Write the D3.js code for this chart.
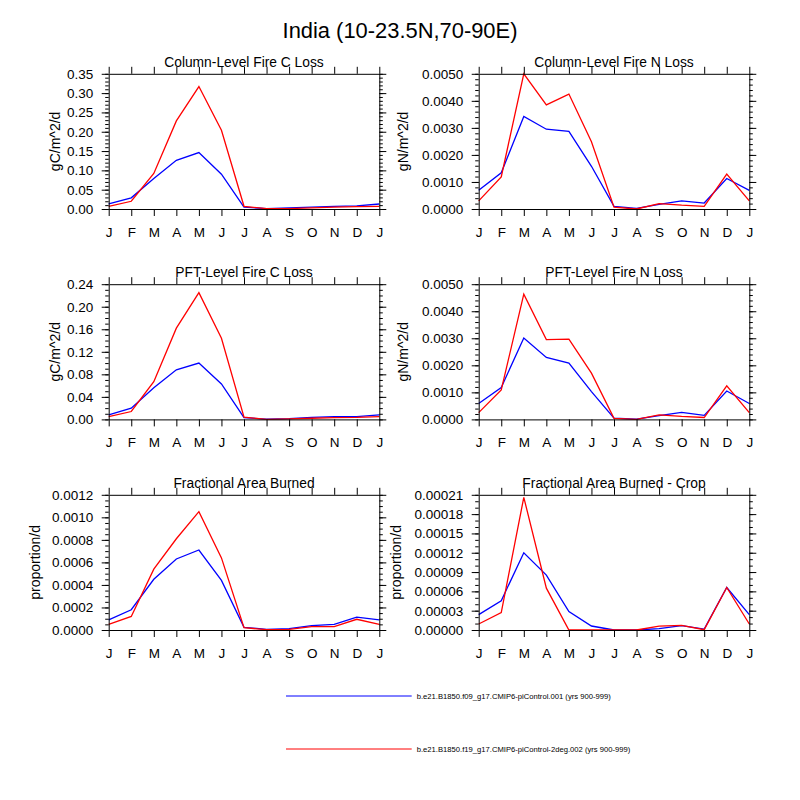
<!DOCTYPE html>
<html>
<head>
<meta charset="utf-8">
<script src="https://cdn.jsdelivr.net/npm/d3@7"></script>
<style>
  body { margin: 0; background: #fff; }
  text { font-family: "Liberation Sans", Arial, Helvetica, sans-serif; }
</style>
</head>
<body>
<svg id="chart" width="800" height="800"></svg>
<script>
// ---- data ----
const months = ['J', 'F', 'M', 'A', 'M', 'J', 'J', 'A', 'S', 'O', 'N', 'D', 'J'];
const mainTitle = 'India (10-23.5N,70-90E)';
const seriesNames = [
    'b.e21.B1850.f09_g17.CMIP6-piControl.001 (yrs 900-999)',
    'b.e21.B1850.f19_g17.CMIP6-piControl-2deg.002 (yrs 900-999)'
];
const panelTitles = ['Column-Level Fire C Loss', 'Column-Level Fire N Loss',
    'PFT-Level Fire C Loss', 'PFT-Level Fire N Loss',
    'Fractional Area Burned', 'Fractional Area Burned - Crop'];
const yTitles = ['gC/m^2/d', 'gN/m^2/d', 'gC/m^2/d', 'gN/m^2/d', 'proportion/d', 'proportion/d'];

// axis ticks
const yMax      = [0.35, 0.005, 0.24, 0.005, 0.0012, 0.00021];
const yStep     = [0.05, 0.001, 0.04, 0.001, 0.0002, 0.00003];
const yMinor    = [0.01, 0.0002, 0.01, 0.0002, 0.00005, 0.00001];
const yDecimals = [2, 4, 2, 4, 4, 5];

// series (blue = f09 run, red = f19 run), Jan..Dec + Jan repeated
const colCLossBlue = [0.013, 0.029, 0.079, 0.126, 0.146, 0.090, 0.005, 0.001, 0.003, 0.005, 0.007, 0.008, 0.013];
const colCLossRed  = [0.007, 0.020, 0.092, 0.228, 0.317, 0.204, 0.007, 0.001, 0.001, 0.003, 0.005, 0.006, 0.007];
const colNLossBlue = [0.00069, 0.00134, 0.00342, 0.00295, 0.00287, 0.00158, 0.0001, 0.00002, 0.00017, 0.0003, 0.00022, 0.00113, 0.00069];
const colNLossRed  = [0.0003, 0.00119, 0.0050, 0.00385, 0.00425, 0.00249, 0.00007, 0.0, 0.0002, 0.00014, 0.0001, 0.00129, 0.0003];
const pftCLossBlue = [0.008, 0.020, 0.056, 0.088, 0.100, 0.063, 0.003, 0.0006, 0.0012, 0.0036, 0.005, 0.005, 0.008];
const pftCLossRed  = [0.005, 0.014, 0.067, 0.162, 0.225, 0.144, 0.004, 0.0, 0.001, 0.002, 0.003, 0.0035, 0.005];
const pftNLossBlue = [0.00059, 0.00118, 0.00301, 0.00229, 0.00208, 0.00103, 0.00005, 0.00001, 0.00014, 0.00026, 0.00015, 0.00105, 0.00059];
const pftNLossRed  = [0.00025, 0.00109, 0.00463, 0.00295, 0.00297, 0.00171, 0.00004, 0.0, 0.00017, 0.00011, 0.00007, 0.00124, 0.00025];
const farBlue      = [0.00009, 0.00018, 0.00045, 0.00063, 0.00071, 0.00044, 0.000024, 0.000006, 0.000012, 0.000038, 0.00005, 0.000115, 0.00009];
const farRed       = [0.00005, 0.00012, 0.00054, 0.00081, 0.00105, 0.00064, 0.00002, 0.000003, 0.000006, 0.00003, 0.00003, 0.000095, 0.00005];
const farCropBlue  = [0.0000238, 0.0000455, 0.00012, 0.0000853, 0.0000285, 0.0000062, 0.0, 0.0, 0.000002, 0.0000067, 0.0000015, 0.000066, 0.0000238];
const farCropRed   = [0.0000093, 0.000027, 0.000206, 0.000065, 0.0, 0.0, 0.0, 0.0, 0.000006, 0.0000072, 0.0000005, 0.000066, 0.0000093];

const blueSeries = [colCLossBlue, colNLossBlue, pftCLossBlue, pftNLossBlue, farBlue, farCropBlue];
const redSeries  = [colCLossRed, colNLossRed, pftCLossRed, pftNLossRed, farRed, farCropRed];

// ---- layout ----
const colLeft = [108.7, 478.7];
const rowTop = [73.8, 284.2, 494.8];
const plotW = 270.6, plotH = 135.2;
const yTitleX = [55, 403, 55, 403, 35, 396];   // absolute x of the rotated y-axis titles
const colors = ['#0000ff', '#ff0000'];
const fontSize = 13.5;

let svg = d3.select('#chart');
svg.append('rect').attr('width', 800).attr('height', 800).attr('fill', '#fff');

svg.append('text')
    .attr('x', 400)
    .attr('y', 37.5)
    .attr('text-anchor', 'middle')
    .attr('font-size', '21.9px')
    .text(mainTitle);

// Helper: tick values as exact multiples to avoid float drift
function steps(max, step) {
    let n = Math.round(max / step);
    return d3.range(n + 1).map(i => +(i * step).toPrecision(10));
}

function styleAxis(g) {
    g.attr('font-family', null).attr('font-size', null);
    g.selectAll('text').attr('font-size', fontSize + 'px').attr('fill', '#000');
    g.selectAll('line').attr('stroke', '#000');
    g.select('.domain').attr('stroke', '#000');
}

panelTitles.forEach((title, p) => {
    let left = colLeft[p % 2];
    let top = rowTop[Math.floor(p / 2)];

    let g = svg.append('g').attr('transform', 'translate(' + left + ',' + top + ')');

    let x = d3.scaleLinear().domain([0, 12]).range([0, plotW]);
    let y = d3.scaleLinear().domain([0, yMax[p]]).range([plotH, 0]);

    let majors = steps(yMax[p], yStep[p]);
    let minors = steps(yMax[p], yMinor[p]);
    let fmt = d3.format('.' + yDecimals[p] + 'f');

    // series lines (blue first, red on top)
    let line = d3.line().x((d, i) => x(i)).y(d => y(d));
    [blueSeries[p], redSeries[p]].forEach((vals, s) => {
        g.append('path')
            .datum(vals)
            .attr('d', line)
            .attr('fill', 'none')
            .attr('stroke', colors[s])
            .attr('stroke-width', 1.3)
            .attr('stroke-linejoin', 'miter');
    });

    // minor ticks left & right
    g.append('g')
        .call(d3.axisLeft(y).tickValues(minors).tickSize(3.5).tickFormat(''))
        .call(styleAxis).select('.domain').remove();
    g.append('g').attr('transform', 'translate(' + plotW + ',0)')
        .call(d3.axisRight(y).tickValues(minors).tickSize(3.5).tickFormat(''))
        .call(styleAxis).select('.domain').remove();

    // major axes
    g.append('g')
        .call(d3.axisLeft(y).tickValues(majors).tickSize(7).tickSizeOuter(0).tickPadding(8.4).tickFormat(fmt))
        .call(styleAxis);
    g.append('g').attr('transform', 'translate(' + plotW + ',0)')
        .call(d3.axisRight(y).tickValues(majors).tickSize(7).tickSizeOuter(0).tickFormat(''))
        .call(styleAxis);
    g.append('g').attr('transform', 'translate(0,' + plotH + ')')
        .call(d3.axisBottom(x).tickValues(d3.range(13)).tickSize(7).tickSizeOuter(0).tickPadding(11.2)
            .tickFormat(i => months[i]))
        .call(styleAxis);
    g.append('g')
        .call(d3.axisTop(x).tickValues(d3.range(13)).tickSize(7).tickSizeOuter(0).tickFormat(''))
        .call(styleAxis);

    // panel title
    g.append('text')
        .attr('x', plotW / 2)
        .attr('y', -7.3)
        .attr('text-anchor', 'middle')
        .attr('font-size', '13.8px')
        .text(title);

    // y-axis title
    svg.append('text')
        .attr('transform', 'translate(' + yTitleX[p] + ',' + (top + plotH / 2) + ') rotate(-90)')
        .attr('text-anchor', 'middle')
        .attr('dy', '0.35em')
        .attr('font-size', '14px')
        .text(yTitles[p]);
});

// legend
const legendY = [696, 749];
seriesNames.forEach((name, s) => {
    svg.append('line')
        .attr('x1', 286).attr('x2', 411.7)
        .attr('y1', legendY[s]).attr('y2', legendY[s])
        .attr('stroke', colors[s])
        .attr('stroke-width', 1);
    svg.append('text')
        .attr('x', 416.7)
        .attr('y', legendY[s])
        .attr('dy', '0.35em')
        .attr('font-size', '7.65px')
        .text(name);
});
</script>
</body>
</html>
